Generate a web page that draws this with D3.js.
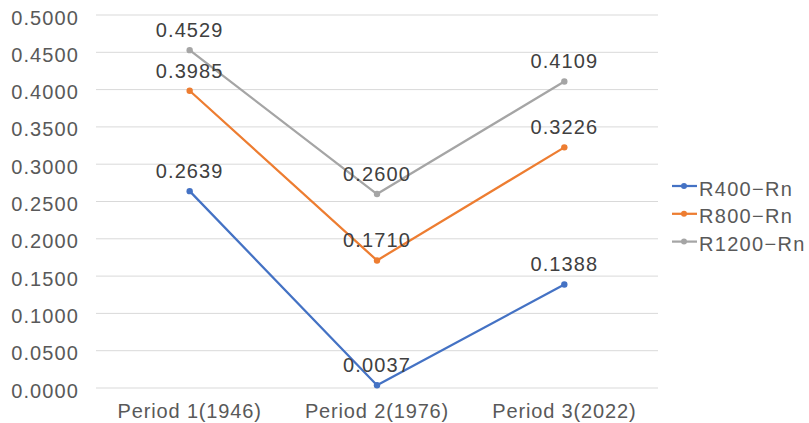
<!DOCTYPE html>
<html><head><meta charset="utf-8">
<script src="https://cdn.jsdelivr.net/npm/d3@7"></script>
<style>body{margin:0;background:#fff}svg{display:block}text{font-family:"Liberation Sans",Arial,sans-serif}</style>
</head><body><svg id="c" width="809" height="423"></svg>
<script>
const categories = ["Period 1(1946)", "Period 2(1976)", "Period 3(2022)"];
const seriesNames = ["R400\u2212Rn", "R800\u2212Rn", "R1200\u2212Rn"];
const r400 = [0.2639, 0.0037, 0.1388];
const r800 = [0.3985, 0.1710, 0.3226];
const r1200 = [0.4529, 0.2600, 0.4109];
const yTicks = [0, 0.05, 0.1, 0.15, 0.2, 0.25, 0.3, 0.35, 0.4, 0.45, 0.5];
const colors = ["#4472C4", "#ED7D31", "#A5A5A5"];

(function(){
const series = [r400, r800, r1200].map((v, i) => ({name: seriesNames[i], values: v, color: colors[i]}));
const svg = d3.select("#c");
const pl = 96, pr = 658, pt = 15, pb = 388;
const x = d3.scaleBand().domain(categories).range([pl, pr]);
const y = d3.scaleLinear().domain([0, 0.5]).range([pb, pt]);

svg.append("g").selectAll("line").data(yTicks).join("line")
  .attr("x1", pl).attr("x2", pr)
  .attr("y1", d => y(d)).attr("y2", d => y(d))
  .attr("stroke", "#D9D9D9").attr("stroke-width", 1);

const yAxis = d3.axisLeft(y).tickValues(yTicks).tickFormat(d3.format(".4f")).tickSize(0).tickPadding(17);
svg.append("g").attr("transform", `translate(${pl},0)`).call(yAxis)
  .call(a => a.select(".domain").remove())
  .call(a => a.selectAll("text").attr("fill", "#595959").attr("dy", "0.45em")
    .style("font-size", "20px").style("letter-spacing", "1.1px").style("font-family", "Liberation Sans"));

const xAxis = d3.axisBottom(x).tickSize(0).tickPadding(16);
svg.append("g").attr("transform", `translate(0,${pb})`).call(xAxis)
  .call(a => a.select(".domain").remove())
  .call(a => a.selectAll("text").attr("fill", "#595959")
    .style("font-size", "20px").style("letter-spacing", "0.85px").style("font-family", "Liberation Sans"));

const cx = c => x(c) + x.bandwidth() / 2;
const line = d3.line().x((d, i) => cx(categories[i])).y(d => y(d));

series.forEach(s => {
  svg.append("path").attr("d", line(s.values)).attr("fill", "none")
    .attr("stroke", s.color).attr("stroke-width", 2.25).attr("stroke-linejoin", "round");
  svg.append("g").selectAll("circle").data(s.values).join("circle")
    .attr("cx", (d, i) => cx(categories[i])).attr("cy", d => y(d)).attr("r", 3.2)
    .attr("fill", s.color);
});
series.forEach(s => {
  svg.append("g").selectAll("text").data(s.values).join("text")
    .attr("x", (d, i) => cx(categories[i])).attr("y", d => y(d) - 13)
    .attr("text-anchor", "middle").attr("fill", "#404040")
    .style("font-size", "20px").style("letter-spacing", "1.1px").text(d => d3.format(".4f")(d));
});

const lg = svg.append("g");
series.forEach((s, i) => {
  const ly = 186 + i * 27.8;
  lg.append("line").attr("x1", 672).attr("x2", 697).attr("y1", ly).attr("y2", ly)
    .attr("stroke", s.color).attr("stroke-width", 2.25);
  lg.append("circle").attr("cx", 684).attr("cy", ly).attr("r", 3).attr("fill", s.color);
  lg.append("text").attr("x", 699).attr("y", ly).attr("dy", "0.48em")
    .attr("fill", "#595959").style("font-size", "20px").style("letter-spacing", "1.3px").text(s.name);
});
})();
</script></body></html>
